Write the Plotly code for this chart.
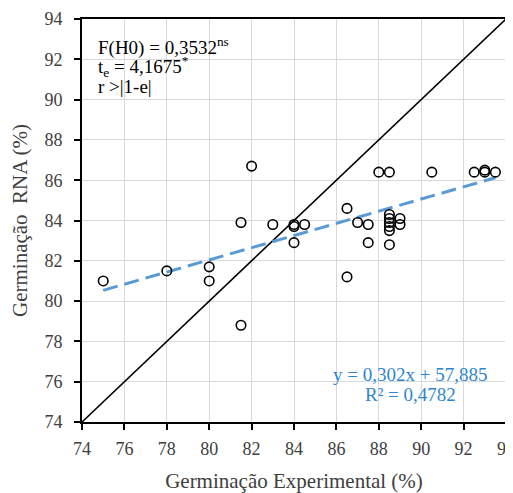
import plotly.graph_objects as go

# Observed (experimental) vs predicted (RNA) germination, %
germ_experimental = [75, 78, 80, 80, 81.5, 81.5, 82, 83, 84, 84, 84, 84.5,
                     86.5, 86.5, 87, 87.5, 87.5, 88, 88.5, 88.5, 88.5, 88.5,
                     88.5, 88.5, 88.5, 89, 89, 90.5, 92.5, 93, 93, 93.5]
germ_rna = [81.0, 81.5, 81.7, 81.0, 83.9, 78.8, 86.7, 83.8, 83.8, 83.7, 82.9, 83.8,
            84.6, 81.2, 83.9, 83.8, 82.9, 86.4, 86.4, 84.3, 84.1, 83.9,
            83.7, 83.5, 82.8, 84.1, 83.8, 86.4, 86.4, 86.5, 86.4, 86.4]

trend_slope = 0.302
trend_intercept = 57.885
trend_x = [75, 93.5]
identity_x = [74, 94]
tick_vals = [74, 76, 78, 80, 82, 84, 86, 88, 90, 92, 94]

stats_lines = ["F(H0) = 0,3532<sup>ns</sup>",
               "t<sub>e</sub> = 4,1675<sup>*</sup>",
               "r >|1-e|"]
eq_lines = ["y = 0,302x + 57,885", "R² = 0,4782"]

FONT = "Liberation Serif"
GREY_TXT = "#404040"
BLUE_LINE = "#5B9BD5"
BLUE_TEXT = "#2E86D0"

fig = go.Figure()

fig.add_trace(go.Scatter(
    x=identity_x, y=identity_x, mode="lines",
    line=dict(color="black", width=1.6), hoverinfo="skip", showlegend=False))

fig.add_trace(go.Scatter(
    x=trend_x, y=[trend_slope * v + trend_intercept for v in trend_x], mode="lines",
    line=dict(color=BLUE_LINE, width=3, dash="15px,7px"), showlegend=False))

fig.add_trace(go.Scatter(
    x=germ_experimental, y=germ_rna, mode="markers",
    marker=dict(symbol="circle-open", size=9.5, color="black", line=dict(width=1.6)),
    showlegend=False))

axis_common = dict(
    range=[74, 94], tickvals=tick_vals, showgrid=True, gridcolor="#d9d9d9", gridwidth=1,
    showline=True, linecolor="black", linewidth=2, mirror=True,
    ticks="outside", ticklen=6, tickcolor="black", tickwidth=1.5,
    tickfont=dict(family=FONT, size=18, color=GREY_TXT), zeroline=False,
    automargin=False, ticklabeloverflow="allow",
)

fig.update_xaxes(**axis_common, ticklabelstandoff=3,
                 title=dict(text="Germinação Experimental (%)",
                            font=dict(family=FONT, size=21, color=GREY_TXT), standoff=16))
fig.update_yaxes(**axis_common, ticklabelstandoff=8,
                 title=dict(text="Germinação \u00a0RNA (%)",
                            font=dict(family=FONT, size=21, color=GREY_TXT), standoff=13))

# white background boxes behind the text blocks (hide gridlines only)
fig.add_shape(type="rect", xref="paper", yref="paper", x0=0.026, x1=0.384, y0=0.767, y1=0.985,
              fillcolor="white", line=dict(width=0), layer="between")
fig.add_shape(type="rect", xref="paper", yref="paper", x0=0.573, x1=0.979, y0=0.030, y1=0.159,
              fillcolor="white", line=dict(width=0), layer="between")

for txt, yy in zip(stats_lines, [0.931, 0.882, 0.832]):
    fig.add_annotation(xref="paper", yref="paper", x=0.034, y=yy, xanchor="left",
                       yanchor="middle", showarrow=False, text=txt,
                       font=dict(family=FONT, size=19, color="black"))

for txt, yy in zip(eq_lines, [0.119, 0.067]):
    fig.add_annotation(xref="paper", yref="paper", x=0.774, y=yy, xanchor="center",
                       yanchor="middle", showarrow=False, text=txt,
                       font=dict(family=FONT, size=19, color=BLUE_TEXT))

# the page body adds an 8px offset, so the figure is sized to the window minus it
fig.update_layout(
    width=505, height=485,
    margin=dict(l=74, r=7, t=11, b=71, autoexpand=False),
    paper_bgcolor="white", plot_bgcolor="white",
    font=dict(family=FONT),
)

fig.write_html("out.html")
